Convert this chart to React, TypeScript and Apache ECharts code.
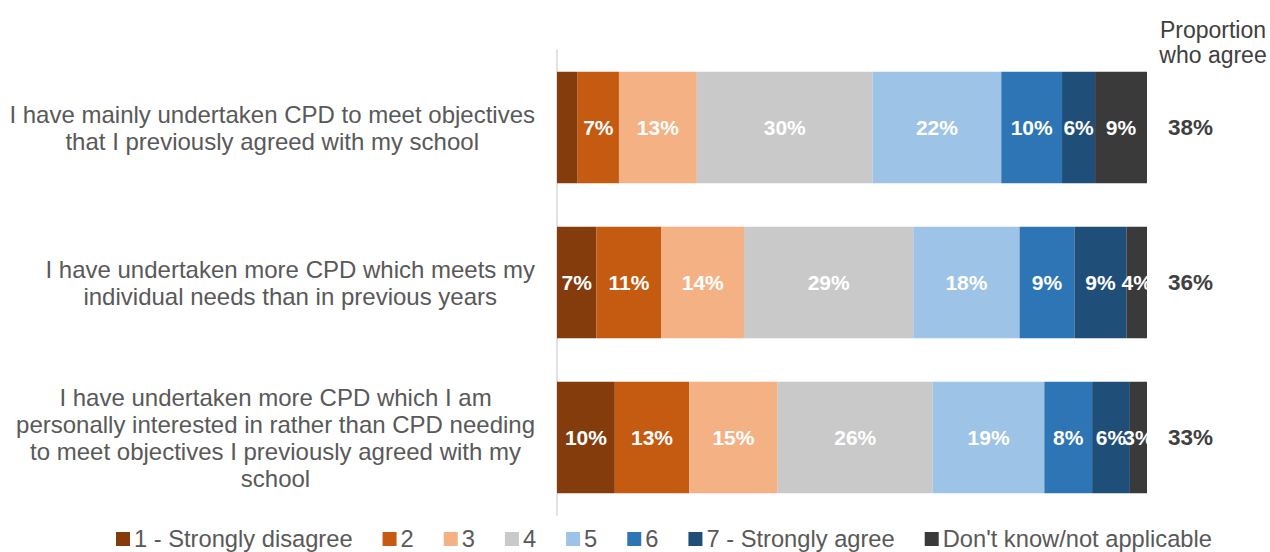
import React, { useEffect, useRef } from "react";
import * as echarts from "echarts";

const categories = [
  "I have mainly undertaken CPD to meet objectives\nthat I previously agreed with my school",
  "I have undertaken more CPD which meets my\nindividual needs than in previous years",
  "I have undertaken more CPD which I am\npersonally interested in rather than CPD needing\nto meet objectives I previously agreed with my\nschool",
];

const levelNames = [
  "1 - Strongly disagree",
  "2",
  "3",
  "4",
  "5",
  "6",
  "7 - Strongly agree",
  "Don't know/not applicable",
];

const level1 = [3.5, 6.7, 9.8];
const level2 = [7.0, 11.0, 12.6];
const level3 = [13.2, 14.0, 15.0];
const level4 = [29.8, 28.7, 26.3];
const level5 = [21.8, 18.0, 18.9];
const level6 = [10.3, 9.3, 8.1];
const level7 = [5.6, 8.8, 6.4];
const dontKnow = [8.8, 3.5, 2.9];

const levelValues = [level1, level2, level3, level4, level5, level6, level7, dontKnow];

const levelColors = [
  "#843c0c",
  "#c55a11",
  "#f4b183",
  "#c9c9c9",
  "#9dc3e6",
  "#2e75b6",
  "#1f4e79",
  "#3a3a3a",
];

// labels not shown in the reference: [levelIndex, rowIndex]
const hiddenLabels = [[0, 0]];

const agreePct = ["38%", "36%", "33%"];

const FONT = "'Liberation Sans', Arial, sans-serif";

export default function App() {
  const ref = useRef<HTMLDivElement>(null);

  useEffect(() => {
    if (!ref.current) return;
    const chart = echarts.init(ref.current, null, { renderer: "svg" });

    const series = levelValues.map((vals, li) => ({
      name: levelNames[li],
      type: "bar",
      stack: "total",
      barCategoryGap: "28%",
      itemStyle: { color: levelColors[li] },
      label: {
        show: true,
        position: "inside",
        color: "#ffffff",
        fontWeight: "bold",
        fontSize: 21,
        fontFamily: FONT,
        formatter: (p: any) => Math.round(p.value) + "%",
      },
      data: vals.map((v, ri) =>
        hiddenLabels.some((h) => h[0] === li && h[1] === ri)
          ? { value: v, label: { show: false } }
          : v
      ),
    }));

    chart.setOption({
      animation: false,
      textStyle: { fontFamily: FONT },
      grid: { left: 557, right: 123, top: 50, bottom: 37, containLabel: false },
      xAxis: { type: "value", min: 0, max: 100, show: false },
      yAxis: [
        {
          type: "category",
          inverse: true,
          data: categories,
          axisLine: { show: true, lineStyle: { color: "#d9d9d9", width: 1.5 } },
          axisTick: { show: false },
          axisLabel: {
            margin: 22,
            align: "right",
            color: "#595959",
            fontSize: 24,
            lineHeight: 27,
            fontFamily: FONT,
            formatter: (v: string) =>
              v
                .split("\n")
                .map((l) => "{c|" + l + "}")
                .join("\n"),
            rich: {
              c: {
                align: "center",
                color: "#595959",
                fontSize: 24,
                lineHeight: 27,
                fontFamily: FONT,
              },
            },
          },
        },
        {
          type: "category",
          inverse: true,
          position: "right",
          data: agreePct,
          axisLine: { show: false },
          axisTick: { show: false },
          axisLabel: {
            margin: 21,
            align: "left",
            color: "#404040",
            fontWeight: "bold",
            fontSize: 22.5,
            fontFamily: FONT,
          },
        },
      ],
      legend: {
        top: 527,
        left: 116,
        padding: 0,
        icon: "rect",
        itemWidth: 14,
        itemHeight: 14,
        itemGap: 30,
        textStyle: { color: "#595959", fontSize: 23.7, fontFamily: FONT, padding: [0, 0, 0, -1] },
        data: levelNames,
      },
      graphic: [
        {
          type: "text",
          x: 1213,
          y: 17,
          style: {
            text: "Proportion\nwho agree",
            fill: "#404040",
            fontSize: 23,
            lineHeight: 25,
            fontFamily: FONT,
            align: "center",
          },
        },
      ],
      series,
    });

    return () => chart.dispose();
  }, []);

  return (
    <div
      ref={ref}
      style={{ position: "absolute", left: 0, top: 0, width: 1270, height: 552 }}
    />
  );
}
